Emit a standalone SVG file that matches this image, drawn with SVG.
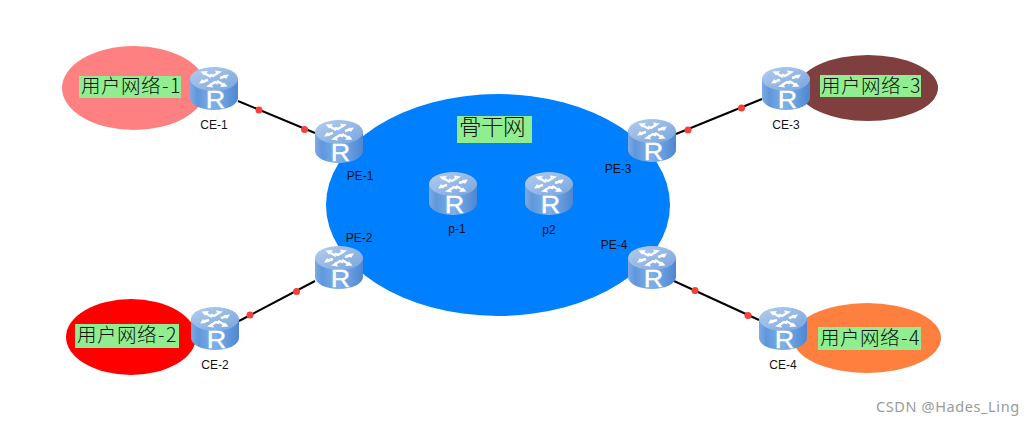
<svg xmlns="http://www.w3.org/2000/svg" width="1034" height="425" viewBox="0 0 1034 425">
<style>
.lab{font-family:"Liberation Sans",Arial,sans-serif;font-size:12px;fill:#111;text-anchor:middle}
.box{fill:#90EE90}
.cn{font-family:"Noto Sans CJK SC","Liberation Sans",sans-serif;font-size:19.500px;font-weight:300;fill:#111}
.bb{font-size:22.500px}
.wm{font-family:"Noto Sans",Arial,sans-serif;font-size:14.500px;fill:#9a9a9a;letter-spacing:.6px}
.link{stroke:#000;stroke-width:2;fill:none}
.dot{fill:#f4413a}
.r{font-family:"Liberation Sans",Arial,sans-serif;font-size:24px;fill:#fff;stroke:#fff;stroke-width:.4;text-anchor:middle}
.ar{stroke:#fff;stroke-width:2.400;fill:none}
</style>
<defs>
<linearGradient id="body" x1="0" x2="1" y1="0" y2="0">
<stop offset="0" stop-color="#7eaae2"/><stop offset=".15" stop-color="#5f97dc"/><stop offset=".5" stop-color="#7fb0e8"/><stop offset=".85" stop-color="#5b93d9"/><stop offset="1" stop-color="#4f86d0"/>
</linearGradient>
<linearGradient id="top" x1="0" x2="1" y1="0" y2="1">
<stop offset="0" stop-color="#b4cdee"/><stop offset="1" stop-color="#78a5de"/>
</linearGradient>
<g id="router">
<path d="M0 12V31A24 12 0 0 0 48 31V12Z" fill="url(#body)"/>
<ellipse cx="24" cy="12" rx="24" ry="12" fill="url(#top)"/>
<path class="ar" d="M21 10L15 6.500M27 6.500L23 9L20 7.500M27 14L33 17.500M21 17.500L25 15L28 16.500M18 13L13 14.500M30 11L35 9.500"/>
<path d="M10.500 4.500L18 4L14 8.500ZM25 3.500L32 4.500L27 8ZM37.500 19.500L30 20L34 15.500ZM23 20.500L16 19.500L21 16ZM9 16.500L12 12L15 16ZM39 7.500L36 12L33 8Z" fill="#fff"/>
<text class="r" transform="translate(25.500 40.500) scale(1.120 1)">R</text>
</g>
</defs>
<rect width="1034" height="425" fill="#fff"/>
<ellipse cx="134" cy="88" rx="72" ry="42" fill="#FF8080"/>
<ellipse cx="131" cy="337" rx="65" ry="38" fill="#FF0000"/>
<ellipse cx="868" cy="88" rx="70" ry="33" fill="#7F3F3F"/>
<ellipse cx="867" cy="338" rx="74" ry="35" fill="#FF7F3F"/>
<ellipse cx="498" cy="205" rx="172" ry="111" fill="#007FFF"/>
<g id="connectors">
<path class="link" d="M238 101L315 133"/><circle class="dot" cx="259" cy="110" r="3.500"/><circle class="dot" cx="304.500" cy="129.500" r="3.500"/>
<path class="link" d="M239 321L315 281"/><circle class="dot" cx="250" cy="315" r="3.500"/><circle class="dot" cx="296.500" cy="291.500" r="3.500"/>
<path class="link" d="M676 134L762 99"/><circle class="dot" cx="688" cy="130" r="3.500"/><circle class="dot" cx="741.500" cy="108" r="3.500"/>
<path class="link" d="M674 281L759 320"/><circle class="dot" cx="695" cy="290.500" r="3.500"/><circle class="dot" cx="748" cy="315.500" r="3.500"/>
</g>
<g id="net-1"><rect class="box" x="79" y="76" width="102" height="22"/><text class="cn" x="81 101 121 141 162 170" y="93">用户网络-1</text></g>
<g id="net-2"><rect class="box" x="75" y="324" width="104" height="24"/><text class="cn" x="77 97 117 137 158 166" y="342">用户网络-2</text></g>
<g id="net-3"><rect class="box" x="820" y="75" width="101" height="22"/><text class="cn" x="821 841 861 881 902 910" y="93">用户网络-3</text></g>
<g id="net-4"><rect class="box" x="818" y="327" width="103" height="23"/><text class="cn" x="820 840 860 880 901 909" y="345">用户网络-4</text></g>
<g id="backbone"><rect class="box" x="457" y="116" width="75" height="27"/><text class="cn bb" x="459 481 503" y="135">骨干网</text></g>
<g id="CE-1"><use href="#router" x="190" y="67"/><text class="lab" x="214" y="129">CE-1</text></g>
<g id="PE-1"><use href="#router" x="315" y="120"/><text class="lab" x="360" y="180">PE-1</text></g>
<g id="CE-2"><use href="#router" x="191" y="307"/><text class="lab" x="215" y="369">CE-2</text></g>
<g id="PE-2"><use href="#router" x="315" y="246"/><text class="lab" x="359" y="242">PE-2</text></g>
<g id="p-1"><use href="#router" x="429" y="172"/><text class="lab" x="457" y="233">p-1</text></g>
<g id="p2"><use href="#router" x="525" y="172"/><text class="lab" x="549" y="234">p2</text></g>
<g id="PE-3"><use href="#router" x="628" y="119"/><text class="lab" x="618" y="173">PE-3</text></g>
<g id="PE-4"><use href="#router" x="628" y="246"/><text class="lab" x="614" y="249">PE-4</text></g>
<g id="CE-3"><use href="#router" x="762" y="67"/><text class="lab" x="786" y="129">CE-3</text></g>
<g id="CE-4"><use href="#router" x="759" y="307"/><text class="lab" x="783" y="369">CE-4</text></g>
<text class="wm" x="876" y="412">CSDN @Hades_Ling</text>
</svg>
